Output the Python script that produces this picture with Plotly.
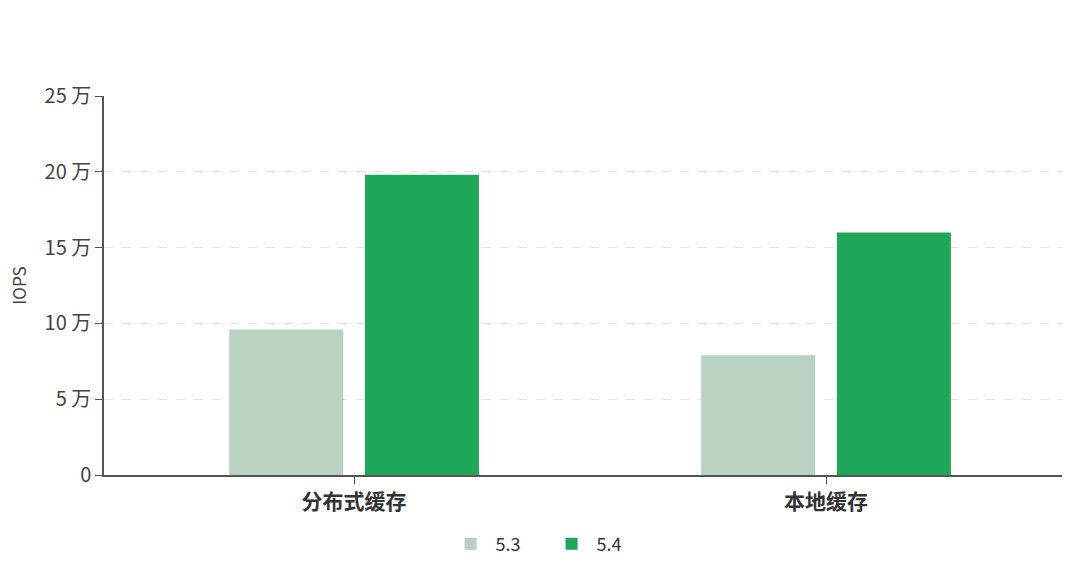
import plotly.graph_objects as go

# IOPS per cache type
categories = ["分布式缓存", "本地缓存"]
iops_53 = [96000, 79000]
iops_54 = [198000, 160000]
versions = ["5.3", "5.4"]
tick_vals = [0, 50000, 100000, 150000, 200000, 250000]
tick_text = ["0", "5 万", "10 万", "15 万", "20 万", "25 万"]

colors = {"5.3": "#b9d1c1", "5.4": "#1ea756"}

fig = go.Figure()
for name, vals in zip(versions, [iops_53, iops_54]):
  fig.add_trace(go.Bar(x=categories, y=vals, name=name,
                       marker=dict(color=colors[name], line=dict(width=0))))

fig.update_layout(
  width=1080,
  height=574,
  barmode="group",
  bargap=0.425,
  bargroupgap=0.16,
  plot_bgcolor="white",
  paper_bgcolor="white",
  font=dict(family="Noto Sans CJK SC", size=17, color="#444444"),
  margin=dict(l=104, r=18, t=96, b=99, autoexpand=False),
  legend=dict(orientation="h", x=0.462, xanchor="center", y=-0.182, yanchor="middle",
              font=dict(size=18, color="#333333"), itemwidth=40,
              entrywidth=46, traceorder="normal"),
  showlegend=True,
)

fig.update_xaxes(
  range=[-0.53, 1.5],
  showline=True, linecolor="#555555", linewidth=1.5,
  ticks="outside", ticklen=7, tickcolor="#555555",
  tickfont=dict(size=21, color="#333333", family="Noto Sans CJK SC", weight="bold"),
  showgrid=False,
)

fig.update_yaxes(
  range=[0, 250000],
  tickvals=tick_vals, ticktext=tick_text,
  showline=True, linecolor="#555555", linewidth=1.5,
  ticks="outside", ticklen=7, tickcolor="#555555",
  tickfont=dict(size=20, color="#444444"),
  showgrid=True, gridcolor="#e4e4e4", griddash="dash", gridwidth=1,
  zeroline=False,
  title=dict(text="IOPS", font=dict(size=17, color="#444444"), standoff=14),
)

fig.write_html("out.html", config={"displayModeBar": False},
               post_script="document.body.style.margin='0';")
